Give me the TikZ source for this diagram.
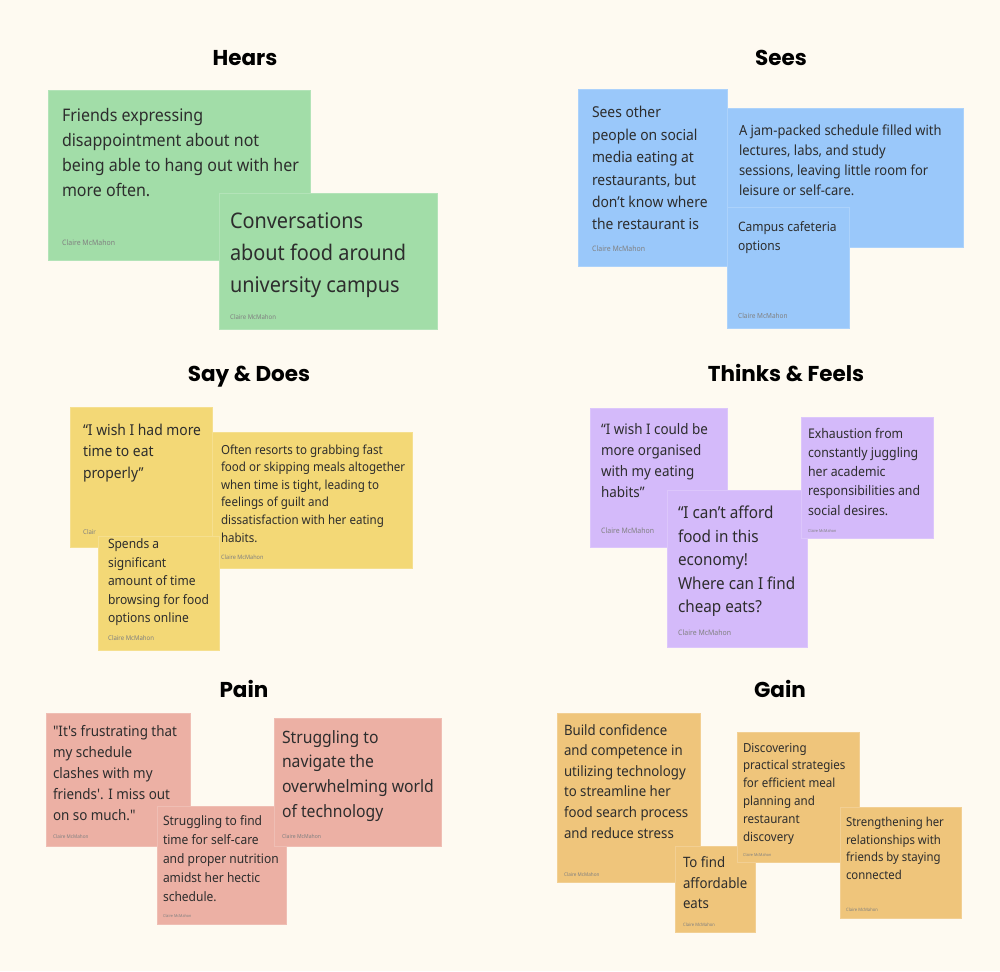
\documentclass[tikz,border=0pt]{standalone}
\usepackage{fontspec}
\setmainfont{Noto Sans}[Ligatures=TeXOff, FakeStretch=0.925]
\newfontfamily\titlefont{Poppins}
\definecolor{bgc}{RGB}{254,250,241}
\definecolor{cgreen}{RGB}{162,221,168}
\definecolor{cblue}{RGB}{154,200,250}
\definecolor{cyellow}{RGB}{243,216,118}
\definecolor{cpurple}{RGB}{212,186,250}
\definecolor{cpain}{RGB}{236,176,164}
\definecolor{cgain}{RGB}{239,197,123}
\definecolor{ink}{RGB}{45,45,45}
\newcommand\fs[2]{\fontsize{#1}{#2}\selectfont}
\tikzset{
  sticky/.style={fill=#1, draw=white!18!#1, line width=0.6pt, inner sep=0pt, outer sep=0pt, anchor=north west},
  txt/.style={text=ink, inner sep=0pt, outer sep=0pt, anchor=north west, align=left},
  author/.style={text=black!50, inner sep=0pt, anchor=west, font=\fs{#1}{#1}},
  heading/.style={font=\titlefont\bfseries\fontsize{21.5}{24}\selectfont, text=black, anchor=base, inner sep=0pt}
}
\begin{document}
\begin{tikzpicture}[x=1pt,y=-1pt]
\fill[bgc] (0,0) rectangle (1000,971);
\useasboundingbox (0,0) rectangle (1000,971);

% ---------- Headings
\node[heading] (tH) at (245,66) {Hears};
\node[heading] (tS) at (781,66) {Sees};
\node[heading] (tD) at (249,381) {Say \& Does};
\node[heading] (tT) at (786,381) {Thinks \& Feels};
\node[heading] (tP) at (244,697) {Pain};
\node[heading] (tG) at (780,697) {Gain};

% ---------- Hears
\node[sticky=cgreen, minimum width=262pt, minimum height=170pt] (h1) at (48,90) {};
\node[txt, font=\fs{17.3}{24.8}] (h1t) at (62,104.6) {\strut Friends expressing\\disappointment about not\\being able to hang out with her\\more often.};
\node[author=7.5] (h1a) at (62,243) {Claire McMahon};
\node[sticky=cgreen, minimum width=218pt, minimum height=136pt] (h2) at (219,193) {};
\node[txt, font=\fs{21.5}{32}] (h2t) at (230,205.6) {\strut Conversations\\about food around\\university campus};
\node[author=6.5] (h2a) at (230,317) {Claire McMahon};

% ---------- Sees
\node[sticky=cblue, minimum width=149pt, minimum height=177pt] (s1) at (578,89) {};
\node[txt, font=\fs{15}{22.4}] (s1t) at (592,102.3) {\strut Sees other\\people on social\\media eating at\\restaurants, but\\don’t know where\\the restaurant is};
\node[author=7.5] (s1a) at (592,249) {Claire McMahon};
\node[sticky=cblue, minimum width=236pt, minimum height=139pt] (s2) at (727,108) {};
\node[txt, font=\fs{14}{20}] (s2t) at (739,121) {\strut A jam-packed schedule filled with\\lectures, labs, and study\\sessions, leaving little room for\\leisure or self-care.};
\node[sticky=cblue, minimum width=122pt, minimum height=121pt] (s3) at (727,207) {};
\node[txt, font=\fs{13}{18.5}] (s3t) at (738,219) {\strut Campus cafeteria\\options};
\node[author=7] (s3a) at (738,316) {Claire McMahon};

% ---------- Say & Does
\node[sticky=cyellow, minimum width=142pt, minimum height=140pt] (d1) at (70,407) {};
\node[txt, font=\fs{15}{21.5}] (d1t) at (83,420) {\strut “I wish I had more\\time to eat\\properly”};
\node[author=6.5] (d1a) at (83,532) {Clair};
\node[sticky=cyellow, minimum width=200pt, minimum height=136pt] (d2) at (212,432) {};
\node[txt, font=\fs{12.5}{17.6}] (d2t) at (221,441.7) {\strut Often resorts to grabbing fast\\food or skipping meals altogether\\when time is tight, leading to\\feelings of guilt and\\dissatisfaction with her eating\\habits.};
\node[author=6] (d2a) at (221,557) {Claire McMahon};
\node[sticky=cyellow, minimum width=121pt, minimum height=114pt] (d3) at (98,536) {};
\node[txt, font=\fs{13}{18.5}] (d3t) at (108,536) {\strut Spends a\\significant\\amount of time\\browsing for food\\options online};
\node[author=6.5] (d3a) at (108,638) {Claire McMahon};

% ---------- Thinks & Feels
\node[sticky=cpurple, minimum width=137pt, minimum height=139pt] (t1) at (590,408) {};
\node[txt, font=\fs{14.5}{20.8}] (t1t) at (601,420.4) {\strut “I wish I could be\\more organised\\with my eating\\habits”};
\node[author=7.5] (t1a) at (601,531) {Claire McMahon};
\node[sticky=cpurple, minimum width=140pt, minimum height=157pt] (t2) at (667,490) {};
\node[txt, font=\fs{16.5}{23.5}] (t2t) at (678,502.5) {\strut “I can’t afford\\food in this\\economy!\\Where can I find\\cheap eats?};
\node[author=7.5] (t2a) at (678,633) {Claire McMahon};
\node[sticky=cpurple, minimum width=132pt, minimum height=121pt] (t3) at (801,417) {};
\node[txt, font=\fs{13.3}{19.3}] (t3t) at (808,424.5) {\strut Exhaustion from\\constantly juggling\\her academic\\responsibilities and\\social desires.};
\node[author=4] (t3a) at (808,531) {Claire McMahon};

% ---------- Pain
\node[sticky=cpain, minimum width=144pt, minimum height=133pt] (p1) at (46,713) {};
\node[txt, font=\fs{14.5}{21}] (p1t) at (53,721.3) {\strut "It's frustrating that\\my schedule\\clashes with my\\friends'. I miss out\\on so much."};
\node[author=5] (p1a) at (53,837) {Claire McMahon};
\node[sticky=cpain, minimum width=129pt, minimum height=118pt] (p2) at (157,806) {};
\node[txt, font=\fs{13}{18.8}] (p2t) at (163,812.8) {\strut Struggling to find\\time for self-care\\and proper nutrition\\amidst her hectic\\schedule.};
\node[author=4] (p2a) at (163,916) {Claire McMahon};
\node[sticky=cpain, minimum width=167pt, minimum height=128pt] (p3) at (274,718) {};
\node[txt, font=\fs{17}{24.7}] (p3t) at (282,725.7) {\strut Struggling to\\navigate the\\overwhelming world\\of technology};
\node[author=5.5] (p3a) at (282,836) {Claire McMahon};

% ---------- Gain
\node[sticky=cgain, minimum width=143pt, minimum height=169pt] (g1) at (557,713) {};
\node[txt, font=\fs{14.3}{20.6}] (g1t) at (564,720.6) {\strut Build confidence\\and competence in\\utilizing technology\\to streamline her\\food search process\\and reduce stress};
\node[author=5] (g1a) at (564,875) {Claire McMahon};
\node[sticky=cgain, minimum width=80pt, minimum height=86pt] (g2) at (675,846) {};
\node[txt, font=\fs{14.3}{20.5}] (g2t) at (683,853.6) {\strut To find\\affordable\\eats};
\node[author=4.5] (g2a) at (683,925) {Claire McMahon};
\node[sticky=cgain, minimum width=122pt, minimum height=130pt] (g3) at (737,732) {};
\node[txt, font=\fs{12.5}{17.9}] (g3t) at (743,739.5) {\strut Discovering\\practical strategies\\for efficient meal\\planning and\\restaurant\\discovery};
\node[author=4] (g3a) at (743,855) {Claire McMahon};
\node[sticky=cgain, minimum width=121pt, minimum height=111pt] (g4) at (840,807) {};
\node[txt, font=\fs{12.3}{17.4}] (g4t) at (846,814.8) {\strut Strengthening her\\relationships with\\friends by staying\\connected};
\node[author=4.5] (g4a) at (846,910) {Claire McMahon};
\end{tikzpicture}
\end{document}
